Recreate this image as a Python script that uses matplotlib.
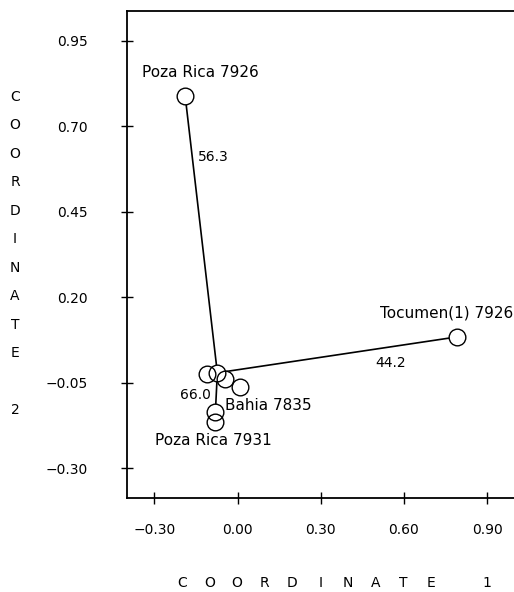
import numpy as np
import matplotlib
matplotlib.use("Agg")
from matplotlib import pyplot as plt

# site coordinates (coordinate 1, coordinate 2)
names = ["Poza Rica 7926", "Tocumen(1) 7926", "c1", "hub", "c3", "Bahia 7835", "Poza Rica 7931", "c6"]
coord1 = [-0.189, 0.792, -0.109, -0.073, -0.044, 0.010, -0.080, -0.080]
coord2 = [0.788, 0.084, -0.024, -0.021, -0.038, -0.062, -0.135, -0.164]

# tree links (index pairs) and their distances
links = [(0, 3), (1, 3), (3, 6)]
link_labels = ["56.3", "44.2", "66.0"]
link_label_pos = [(-0.088, 0.610), (0.553, 0.007), (-0.153, -0.086)]

# point labels
point_labels = ["Poza Rica 7926", "Tocumen(1) 7926", "Bahia 7835", "Poza Rica 7931"]
point_label_pos = [(-0.135, 0.856), (0.753, 0.154), (-0.044, -0.116), (-0.088, -0.218)]
point_label_ha = ["center", "center", "left", "center"]

xticks = [-0.30, 0.00, 0.30, 0.60, 0.90]
yticks = [-0.30, -0.05, 0.20, 0.45, 0.70, 0.95]


def fmt(v):
    return ("%.2f" % v).replace("-", "\u2212")


fig = plt.figure(figsize=(5.14, 5.92), dpi=100)
ax = fig.add_axes([0.2465, 0.1583, 0.755, 0.8236])

for (a, b) in links:
    ax.plot([coord1[a], coord1[b]], [coord2[a], coord2[b]], color="black", lw=1.2, zorder=1)

# white discs hide the lines inside the circles, then hollow rings on top
ax.plot(coord1, coord2, "o", ms=12, mfc="white", mec="none", zorder=2)
ax.plot(coord1, coord2, "o", ms=12, mfc="none", mec="black", mew=1.0, zorder=3)

for t, (x, y) in zip(link_labels, link_label_pos):
    ax.text(x, y, t, fontsize=10, ha="center", va="center", zorder=4)
for t, (x, y), ha in zip(point_labels, point_label_pos, point_label_ha):
    ax.text(x, y, t, fontsize=11, ha=ha, va="center", zorder=4)

ax.set_xlim(-0.40, 1.0)
ax.set_ylim(-0.388, 1.038)
ax.set_xticks(xticks)
ax.set_xticklabels([fmt(v) for v in xticks])
ax.set_yticks(yticks)
ax.set_yticklabels([fmt(v) for v in yticks])
ax.tick_params(direction="inout", length=8, width=1.0, labelsize=10)
ax.tick_params(axis="y", pad=24)
ax.tick_params(axis="x", pad=14)
ax.spines["right"].set_visible(False)
for s in ["left", "bottom", "top"]:
    ax.spines[s].set_linewidth(1.3)

# spaced-out axis titles
ylab = "COORDINATE 2"
for i, ch in enumerate(ylab):
    fig.text(15 / 514, 1 - (96.7 + i * 28.5) / 592, ch, fontsize=10, ha="center", va="center")
xlab = "COORDINATE 1"
for i, ch in enumerate(xlab):
    fig.text((181.7 + i * 27.7) / 514, 1 - 583 / 592, ch, fontsize=10, ha="center", va="center")

fig.savefig("out.png", dpi=100)
